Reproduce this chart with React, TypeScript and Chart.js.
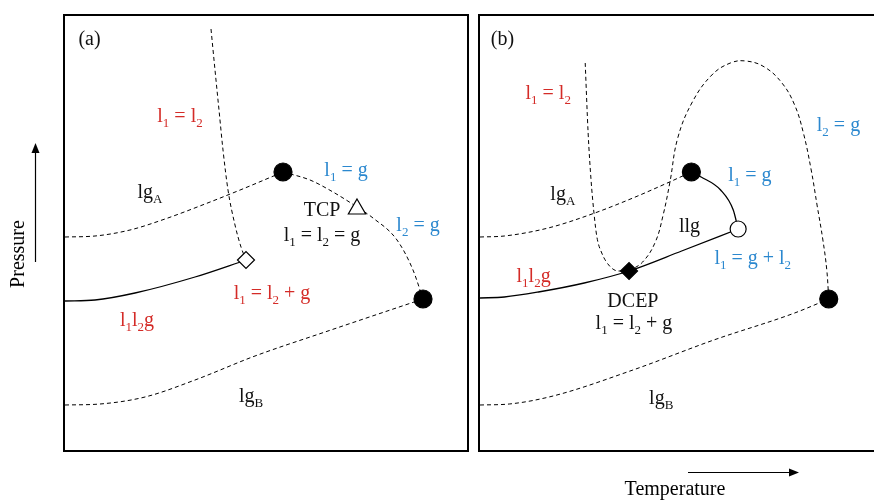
import { useEffect, useRef } from "react";
import { Chart, registerables } from "chart.js";

Chart.register(...registerables);

// Each point is [temperature, pressure] in arbitrary schematic units.
type Pt = [number, number];

// ---------- Panel (a) ----------
const aVapourA: Pt[] = [[0, 213], [30, 214], [65, 220], [100, 231], [140, 246], [180, 262], [218, 278]];
const aLiquidLiquid: Pt[] = [[146, 421], [150, 380], [154, 340], [158, 300], [163, 260], [170, 225], [176, 203], [181, 190]];
const aCriticalLine: Pt[] = [[218, 278], [245, 270], [268, 258], [292, 243], [308, 232], [332, 210], [348, 180], [358, 151]];
const aThreePhase: Pt[] = [[0, 149], [30, 150], [70, 157], [130, 173], [181, 190]];
const aVapourB: Pt[] = [[0, 45], [35, 46], [80, 53], [130, 70], [190, 94], [260, 118], [358, 151]];
const aCritA: Pt = [218, 278];
const aCritB: Pt = [358, 151];
const aTCP: Pt = [292, 241];
const aQuad: Pt = [181, 190];

// ---------- Panel (b) ----------
const bVapourA: Pt[] = [[0, 213], [25, 214], [70, 222], [115, 236], [157, 252], [190, 266], [217, 278]];
const bCritA: Pt[] = [[217, 278], [227, 273], [247, 260], [260, 240], [265, 221]];
const bThreePhase: Pt[] = [[0, 152], [25, 153], [60, 158], [107, 167], [153, 179], [207, 199], [265, 221]];
const bLiquidLiquid: Pt[] = [[108, 387], [111, 317], [114, 270], [117, 237], [120, 213], [125, 197], [133, 184], [142, 179], [153, 179]];
const bLoop: Pt[] = [
  [153, 179], [167, 188], [180, 208], [188, 235], [195, 268], [203, 312], [218, 348], [238, 375], [257, 387], [273, 389],
  [292, 383], [310, 367], [323, 345], [332, 317], [340, 280], [346, 245], [352, 210], [356, 180], [358, 151],
];
const bVapourB: Pt[] = [[0, 45], [30, 46], [75, 54], [157, 80], [240, 110], [323, 137], [358, 151]];
const bCritA2: Pt = [217, 278];
const bCritB: Pt = [358, 151];
const bUCEP: Pt = [265, 221];
const bDCEP: Pt = [153, 179];

// Region / point labels: "_x" marks a subscript character.
type Label = { text: string; at: Pt; color: string };
const RED = "#d42b27";
const BLUE = "#2b88cf";
const BLACK = "#111";

const aLabels: Label[] = [
  { text: "(a)", at: [24.5, 405], color: BLACK },
  { text: "l_1 = l_2", at: [115, 328], color: RED },
  { text: "lg_A", at: [85, 252], color: BLACK },
  { text: "l_1 = g", at: [281, 274], color: BLUE },
  { text: "TCP", at: [257, 234], color: BLACK },
  { text: "l_1 = l_2 = g", at: [257, 209], color: BLACK },
  { text: "l_2 = g", at: [353, 219], color: BLUE },
  { text: "l_1 = l_2 + g", at: [207, 151], color: RED },
  { text: "l_1l_2g", at: [72, 124], color: RED },
  { text: "lg_B", at: [186, 48], color: BLACK },
];

const bLabels: Label[] = [
  { text: "(b)", at: [23, 405], color: BLACK },
  { text: "l_1 = l_2", at: [70, 351], color: RED },
  { text: "lg_A", at: [85, 250], color: BLACK },
  { text: "l_1 = g", at: [277, 269], color: BLUE },
  { text: "l_2 = g", at: [368, 319], color: BLUE },
  { text: "llg", at: [215, 218], color: BLACK },
  { text: "l_1 = g + l_2", at: [280, 186], color: BLUE },
  { text: "l_1l_2g", at: [55, 168], color: RED },
  { text: "DCEP", at: [157, 143], color: BLACK },
  { text: "l_1 = l_2 + g", at: [158, 121], color: BLACK },
  { text: "lg_B", at: [186, 46], color: BLACK },
];

const FONT = '"Liberation Serif", "Times New Roman", serif';
const MAIN_PX = 20;
const SUB_PX = 13;

function drawRich(ctx: CanvasRenderingContext2D, text: string, x: number, y: number, color: string) {
  const segs: { t: string; sub: boolean }[] = [];
  for (let i = 0; i < text.length; i++) {
    if (text[i] === "_" && i + 1 < text.length) {
      segs.push({ t: text[i + 1], sub: true });
      i++;
    } else {
      const last = segs[segs.length - 1];
      if (last && !last.sub) last.t += text[i];
      else segs.push({ t: text[i], sub: false });
    }
  }
  let total = 0;
  const widths = segs.map((s) => {
    ctx.font = `${s.sub ? SUB_PX : MAIN_PX}px ${FONT}`;
    const w = ctx.measureText(s.t).width;
    total += w;
    return w;
  });
  let cx = x - total / 2;
  ctx.fillStyle = color;
  ctx.textBaseline = "alphabetic";
  ctx.textAlign = "left";
  segs.forEach((s, i) => {
    ctx.font = `${s.sub ? SUB_PX : MAIN_PX}px ${FONT}`;
    ctx.fillText(s.t, cx, s.sub ? y + 5 : y);
    cx += widths[i];
  });
}

const labelPlugin = {
  id: "phaseLabels",
  afterDatasetsDraw(chart: any, _args: any, opts: any) {
    const { ctx, scales } = chart;
    ctx.save();
    (opts.items as Label[]).forEach((l) => {
      drawRich(ctx, l.text, scales.x.getPixelForValue(l.at[0]), scales.y.getPixelForValue(l.at[1]), l.color);
    });
    ctx.restore();
  },
};

const framePlugin = {
  id: "panelFrame",
  afterDraw(chart: any, _args: any, opts: any) {
    const { ctx, chartArea } = chart;
    const { left, top, right, bottom } = chartArea;
    ctx.save();
    ctx.strokeStyle = "#000";
    ctx.lineWidth = 2;
    const extra = opts.open ? 20 : 0;
    ctx.strokeRect(left - 1, top - 1, right - left + 2 + extra, bottom - top + 2);
    ctx.restore();
  },
};

// Axis titles with their direction arrows, drawn once on the left panel's canvas.
const axisPlugin = {
  id: "axisTitles",
  afterDraw(chart: any, _args: any, opts: any) {
    if (!opts.show) return;
    const { ctx } = chart;
    ctx.save();
    ctx.fillStyle = "#000";
    ctx.strokeStyle = "#000";
    ctx.lineWidth = 1.2;
    ctx.font = `${MAIN_PX}px ${FONT}`;
    // Temperature
    ctx.textAlign = "center";
    ctx.textBaseline = "alphabetic";
    ctx.fillText("Temperature", 675, 495);
    ctx.beginPath();
    ctx.moveTo(688, 472.5);
    ctx.lineTo(790, 472.5);
    ctx.stroke();
    ctx.beginPath();
    ctx.moveTo(799, 472.5);
    ctx.lineTo(789, 468.5);
    ctx.lineTo(789, 476.5);
    ctx.closePath();
    ctx.fill();
    // Pressure
    ctx.save();
    ctx.translate(24, 254);
    ctx.rotate(-Math.PI / 2);
    ctx.fillText("Pressure", 0, 0);
    ctx.restore();
    ctx.beginPath();
    ctx.moveTo(35.5, 262);
    ctx.lineTo(35.5, 152);
    ctx.stroke();
    ctx.beginPath();
    ctx.moveTo(35.5, 143);
    ctx.lineTo(31.5, 153);
    ctx.lineTo(39.5, 153);
    ctx.closePath();
    ctx.fill();
    ctx.restore();
  },
};

const toXY = (pts: Pt[]) => pts.map(([x, y]) => ({ x, y }));

// Smooth curve; "monotone" suits curves whose temperature only increases.
function curve(pts: Pt[], dashed: boolean, monotone = true) {
  return {
    data: toXY(pts),
    showLine: true,
    borderColor: "#000",
    borderWidth: dashed ? 1 : 1.3,
    borderDash: dashed ? [4, 3] : [],
    pointRadius: 0,
    tension: 0.4,
    cubicInterpolationMode: monotone ? "monotone" : "default",
    fill: false,
    order: 2,
  };
}

function marker(p: Pt, style: string, radius: number, filled: boolean) {
  return {
    data: toXY([p]),
    showLine: false,
    pointStyle: style,
    pointRadius: radius,
    backgroundColor: filled ? "#000" : "#fff",
    borderColor: "#000",
    borderWidth: 1.2,
    order: 1,
  };
}

function makeConfig(datasets: any[], labels: Label[], xMax: number, padding: any, open: boolean, axes: boolean): any {
  return {
    type: "scatter",
    data: { datasets },
    plugins: [labelPlugin, framePlugin, axisPlugin],
    options: {
      animation: false,
      responsive: false,
      events: [],
      layout: { padding },
      scales: {
        x: { type: "linear", min: 0, max: xMax, display: false },
        y: { type: "linear", min: 0, max: 434, display: false },
      },
      plugins: {
        legend: { display: false },
        tooltip: { enabled: false },
        phaseLabels: { items: labels },
        panelFrame: { open },
        axisTitles: { show: axes },
      },
    },
  };
}

export default function App() {
  const refA = useRef<HTMLCanvasElement>(null);
  const refB = useRef<HTMLCanvasElement>(null);

  useEffect(() => {
    const chartA = new Chart(
      refA.current!,
      makeConfig(
        [
          marker(aCritA, "circle", 9, true),
          marker(aCritB, "circle", 9, true),
          marker(aTCP, "triangle", 10, false),
          marker(aQuad, "rectRot", 8.5, false),
          curve(aVapourA, true),
          curve(aLiquidLiquid, true),
          curve(aCriticalLine, true),
          curve(aThreePhase, false),
          curve(aVapourB, true),
        ],
        aLabels,
        402,
        { left: 65, right: 407, top: 16, bottom: 50 },
        false,
        true
      )
    );
    const chartB = new Chart(
      refB.current!,
      makeConfig(
        [
          marker(bCritA2, "circle", 9, true),
          marker(bCritB, "circle", 9, true),
          marker(bUCEP, "circle", 8, false),
          marker(bDCEP, "rectRot", 8.5, true),
          curve(bVapourA, true),
          curve(bCritA, false),
          curve(bThreePhase, false),
          curve(bLiquidLiquid, true),
          curve(bLoop, true, false),
          curve(bVapourB, true),
        ],
        bLabels,
        394,
        { left: 480, right: 0, top: 16, bottom: 50 },
        true,
        false
      )
    );
    return () => {
      chartA.destroy();
      chartB.destroy();
    };
  }, []);

  const canvasStyle: React.CSSProperties = { position: "absolute", left: 0, top: 0, width: 874, height: 500 };
  return (
    <div style={{ position: "fixed", left: 0, top: 0, width: 874, height: 500, background: "#fff", overflow: "hidden" }}>
      <canvas ref={refA} width={874} height={500} style={canvasStyle} />
      <canvas ref={refB} width={874} height={500} style={canvasStyle} />
    </div>
  );
}
